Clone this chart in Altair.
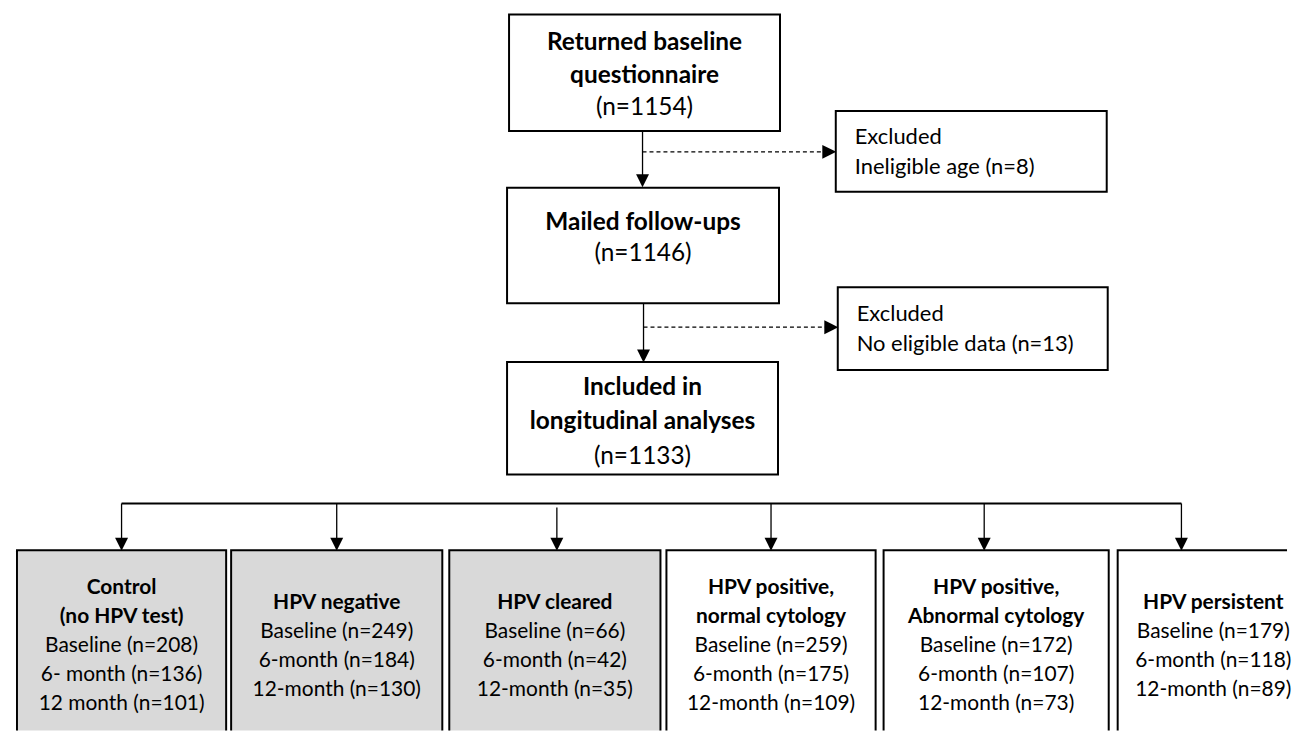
import altair as alt
import pandas as pd

# ---- content ----
top_titles = [["Returned baseline", "questionnaire"], ["Mailed follow-ups"], ["Included in", "longitudinal analyses"]]
top_counts = ["(n=1154)", "(n=1146)", "(n=1133)"]
excl_titles = ["Excluded", "Excluded"]
excl_reasons = ["Ineligible age (n=8)", "No eligible data (n=13)"]
group_titles = [["Control", "(no HPV test)"], ["HPV negative"], ["HPV cleared"],
                ["HPV positive,", "normal cytology"], ["HPV positive,", "Abnormal cytology"], ["HPV persistent"]]
group_lines = [["Baseline (n=208)", "6- month (n=136)", "12 month (n=101)"],
               ["Baseline (n=249)", "6-month (n=184)", "12-month (n=130)"],
               ["Baseline (n=66)", "6-month (n=42)", "12-month (n=35)"],
               ["Baseline (n=259)", "6-month (n=175)", "12-month (n=109)"],
               ["Baseline (n=172)", "6-month (n=107)", "12-month (n=73)"],
               ["Baseline (n=179)", "6-month (n=118)", "12-month (n=89)"]]
group_shaded = [True, True, True, False, False, False]

# ---- layout (pixel space) ----
top_boxes = [(511, 783, 13, 130), (509, 782, 187, 303), (509, 781, 362, 475)]
top_text_y = [[42, 75, 107], [222, 254], [388, 422, 457]]
excl_boxes = [(839, 1111, 110, 191), (841, 1112, 287, 370)]
excl_text_y = [[136, 166], [314, 344]]
grp_boxes = [(17, 227), (232, 444), (451, 663), (669, 879), (887, 1113), (1122, 1330)]
grp_centers = [122, 338, 557, 774, 1000, 1218]
grp_arrow_x = [122, 338, 559, 774, 988, 1186]
grp_top = 551
grp_bottom = 770
FONT = "Lato"
TOP_FS, GRP_FS, EXC_FS = 24.5, 21, 22

boxes = []
for (x1, x2, y1, y2) in top_boxes + excl_boxes:
    boxes.append(dict(x1=x1, x2=x2, y1=y1, y2=y2, fill="white"))
for (x1, x2), sh in zip(grp_boxes, group_shaded):
    boxes.append(dict(x1=x1, x2=x2, y1=grp_top, y2=grp_bottom, fill="#d9d9d9" if sh else "white"))
boxes = pd.DataFrame(boxes)

solid = [dict(x1=645, x2=645, y1=130, y2=180, w=1.3),
         dict(x1=646, x2=646, y1=303, y2=356, w=1.3),
         dict(x1=122, x2=1186, y1=504, y2=504, w=2)]
for ax in grp_arrow_x:
    solid.append(dict(x1=ax, x2=ax, y1=508 if ax == 559 else 504, y2=545, w=1.3))
solid = pd.DataFrame(solid)
dashed = pd.DataFrame([dict(x1=645, x2=828, y1=151, y2=151), dict(x1=646, x2=830, y1=327, y2=327)])

down_heads = pd.DataFrame([dict(x=645, y=180), dict(x=646, y=356)] + [dict(x=ax, y=545) for ax in grp_arrow_x])
right_heads = pd.DataFrame([dict(x=832.5, y=151), dict(x=834.5, y=327)])

bold_t, norm_t, left_t = [], [], []
for (x1, x2, y1, y2), titles, cnt, ys in zip(top_boxes, top_titles, top_counts, top_text_y):
    cx = (x1 + x2) / 2
    for t, yy in zip(titles, ys):
        bold_t.append(dict(x=cx, y=yy, t=t, s=TOP_FS))
    norm_t.append(dict(x=cx, y=ys[-1], t=cnt, s=TOP_FS))
for (x1, x2, y1, y2), a, b, ys in zip(excl_boxes, excl_titles, excl_reasons, excl_text_y):
    left_t.append(dict(x=x1 + 19, y=ys[0], t=a, s=EXC_FS))
    left_t.append(dict(x=x1 + 19, y=ys[1], t=b, s=EXC_FS))
for cx, titles, lines in zip(grp_centers, group_titles, group_lines):
    n = len(titles) + len(lines)
    y0 = 589 if n == 5 else 604
    for k, t in enumerate(titles):
        bold_t.append(dict(x=cx, y=y0 + 29 * k, t=t, s=GRP_FS))
    for k, t in enumerate(lines):
        norm_t.append(dict(x=cx, y=y0 + 29 * (len(titles) + k), t=t, s=GRP_FS))
bold_t, norm_t, left_t = pd.DataFrame(bold_t), pd.DataFrame(norm_t), pd.DataFrame(left_t)

X = alt.Scale(domain=[8, 1292])
Y = alt.Scale(domain=[8, 732], reverse=True)


def xe(f):
    return alt.X(f"{f}:Q", scale=X, axis=None)


def ye(f):
    return alt.Y(f"{f}:Q", scale=Y, axis=None)


rects = alt.Chart(boxes).mark_rect(stroke="black", strokeWidth=2, clip=True).encode(
    x=xe("x1"), x2="x2", y=ye("y1"), y2="y2", fill=alt.Fill("fill:N", scale=None))
srules = alt.Chart(solid).mark_rule(color="black").encode(
    x=xe("x1"), x2="x2", y=ye("y1"), y2="y2", strokeWidth=alt.StrokeWidth("w:Q", scale=None))
drules = alt.Chart(dashed).mark_rule(color="black", strokeWidth=1.4, strokeDash=[4, 3]).encode(
    x=xe("x1"), x2="x2", y=ye("y1"), y2="y2")
dh = alt.Chart(down_heads).mark_point(shape="M-1,-1L1,-1L0,1Z", filled=True, size=169, color="black",
                                      opacity=1, strokeWidth=0).encode(x=xe("x"), y=ye("y"))
rh = alt.Chart(right_heads).mark_point(shape="M-1,-1L1,0L-1,1Z", filled=True, size=196, color="black",
                                       opacity=1, strokeWidth=0).encode(x=xe("x"), y=ye("y"))
bt = alt.Chart(bold_t).mark_text(font=FONT, fontWeight="bold", color="black", baseline="middle").encode(
    x=xe("x"), y=ye("y"), text="t:N", size=alt.Size("s:Q", scale=None))
nt = alt.Chart(norm_t).mark_text(font=FONT, color="black", baseline="middle").encode(
    x=xe("x"), y=ye("y"), text="t:N", size=alt.Size("s:Q", scale=None))
lt = alt.Chart(left_t).mark_text(font=FONT, color="black", baseline="middle", align="left").encode(
    x=xe("x"), y=ye("y"), text="t:N", size=alt.Size("s:Q", scale=None))

chart = alt.layer(rects, srules, drules, dh, rh, bt, nt, lt).properties(
    width=1284, height=724, padding=0, background="white"
).configure_view(strokeWidth=0)

chart.save("out.html", embed_options={"renderer": "svg", "actions": False})
